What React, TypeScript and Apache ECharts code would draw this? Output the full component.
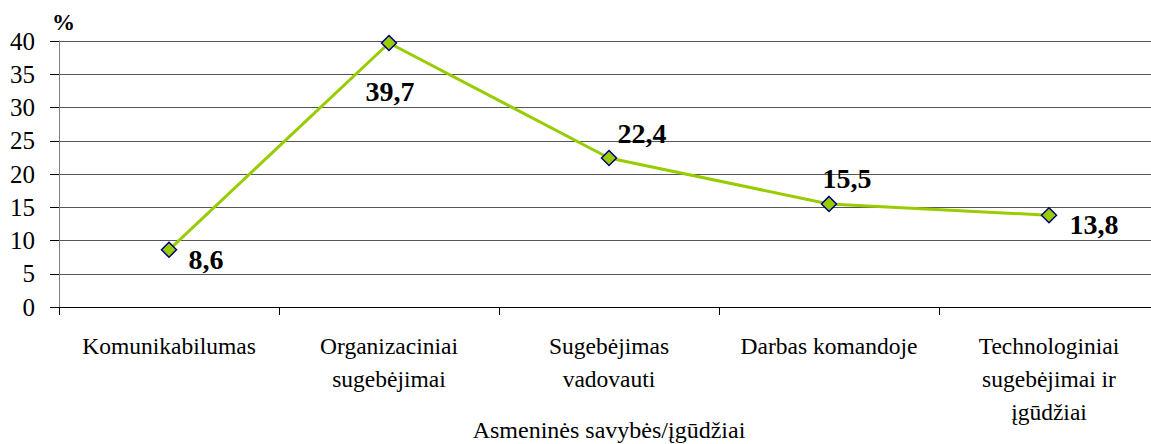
import React, { useEffect, useRef } from "react";
import * as echarts from "echarts";

const categories = [
  "Komunikabilumas",
  "Organizaciniai\nsugebėjimai",
  "Sugebėjimas\nvadovauti",
  "Darbas komandoje",
  "Technologiniai\nsugebėjimai ir\nįgūdžiai",
];
const values = [8.6, 39.7, 22.4, 15.5, 13.8];
const labelTexts = ["8,6", "39,7", "22,4", "15,5", "13,8"];
const labelOffsets: number[][] = [
  [37, 10],
  [1, 49],
  [33, -25],
  [18, -25],
  [45, 9],
];
const xTitle = "Asmeninės savybės/įgūdžiai";
const yUnit = "%";

const css = `#chart-root text { font-family: "Liberation Serif", "Times New Roman", serif !important; }`;

export default function App() {
  const ref = useRef<HTMLDivElement>(null);
  useEffect(() => {
    if (!ref.current) return;
    const chart = echarts.init(ref.current, undefined, { renderer: "svg" });
    const font = "Liberation Serif";
    chart.setOption({
      animation: false,
      backgroundColor: "#ffffff",
      grid: { left: 59, right: -8, top: 41, bottom: 137, containLabel: false, outerBoundsMode: "none" },
      graphic: [
        {
          type: "text",
          left: 52,
          top: 11,
          style: { text: yUnit, fontSize: 23, fontWeight: "bold", fontFamily: font, fill: "#000" },
        },
      ],
      xAxis: {
        type: "category",
        data: categories,
        boundaryGap: true,
        name: xTitle,
        nameLocation: "middle",
        nameGap: 111,
        nameMoveOverlap: false,
        nameTextStyle: { fontSize: 24, color: "#000", fontFamily: font },
        axisLine: { show: true, lineStyle: { color: "#000", width: 1 } },
        axisTick: { show: true, interval: 0, length: 8, lineStyle: { color: "#000" } },
        axisLabel: {
          interval: 0,
          margin: 22,
          fontSize: 23.5,
          lineHeight: 33,
          color: "#000",
          fontFamily: font,
        },
      },
      yAxis: {
        type: "value",
        min: 0,
        max: 40,
        interval: 5,
        axisLine: { show: true, lineStyle: { color: "#808080", width: 1 } },
        axisTick: { show: true, length: 9, lineStyle: { color: "#000" } },
        axisLabel: { margin: 24, fontSize: 25, color: "#000", fontFamily: font },
        splitLine: { show: true, lineStyle: { color: "#555", width: 1 } },
      },
      series: [
        {
          type: "line",
          data: values.map((v, i) => ({
            value: v,
            label: {
              show: true,
              position: "inside",
              offset: labelOffsets[i],
              formatter: labelTexts[i],
              fontSize: 28,
              fontWeight: "bold",
              color: "#000",
              fontFamily: font,
            },
          })),
          lineStyle: { color: "#99CC00", width: 3 },
          symbol: "diamond",
          symbolSize: 15,
          itemStyle: { color: "#99CC00", borderColor: "#000080", borderWidth: 1.5 },
          z: 5,
        },
      ],
    });
    return () => chart.dispose();
  }, []);
  return (
    <>
      <style>{css}</style>
      <div
        id="chart-root"
        ref={ref}
        style={{ position: "fixed", left: 0, top: 0, width: 1151, height: 444, background: "#fff" }}
      />
    </>
  );
}
